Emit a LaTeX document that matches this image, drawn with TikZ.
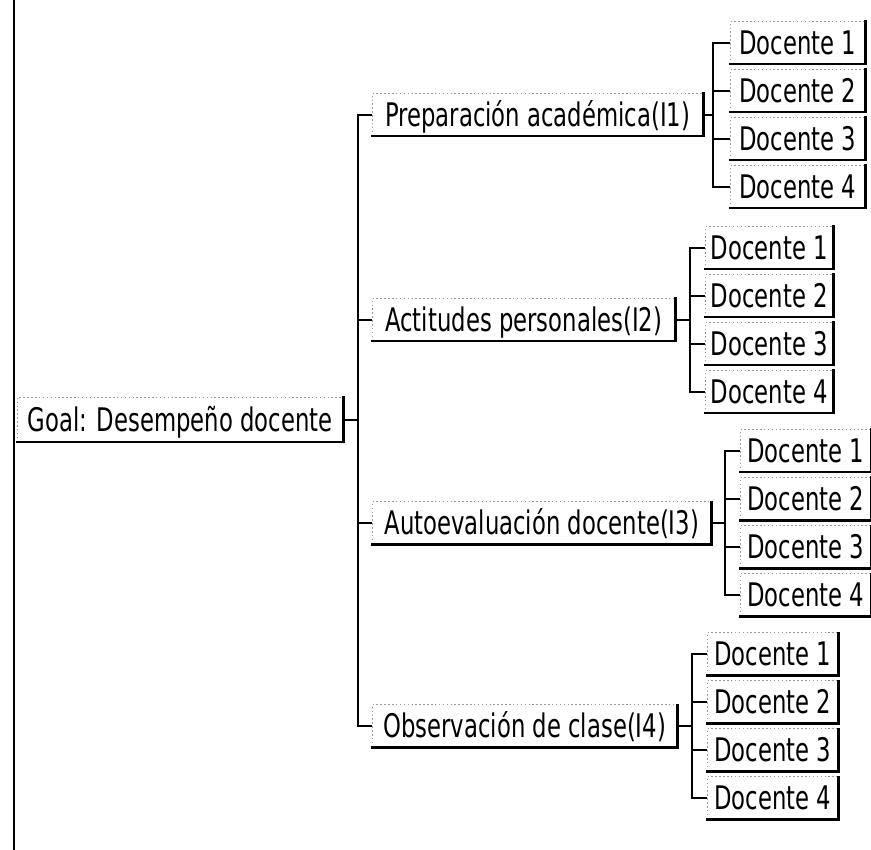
\documentclass[tikz,border=0pt]{standalone}
\usepackage{fontspec}
\newfontfamily\boxfont[FakeStretch=0.70]{DejaVu Sans}
\begin{document}
\begin{tikzpicture}[x=1pt,y=-1pt,
  lbl/.style={inner sep=0pt, minimum height=42pt, text height=23.5pt, text depth=0pt,
    anchor=west, font=\boxfont\fontsize{32.5}{38}\selectfont},
  wire/.style={line width=1.8pt, black},
  rim/.style={line width=2.6pt, black, line cap=rect},
  faintrim/.style={line width=0.8pt, black!40, dash pattern=on 1.5pt off 2.4pt},
  margin/.style={line width=2pt, black}]
  \useasboundingbox (0,0) rectangle (871,850);
  \fill[white] (0,0) rectangle (871,850);

  % rule along the left side of the page
  \coordinate (mtop) at (14,0);
  \coordinate (mbot) at (14,850);
  \draw[margin] (mtop) -- (mbot);

  % goal and criteria
  \node[lbl, minimum width=326pt, minimum height=44pt] (goal) at (17,420) {Goal: Desempeño docente};
  \node[lbl, minimum width=331pt] (c1) at (372,115) {Preparación académica(I1)};
  \node[lbl, minimum width=303pt] (c2) at (372,320) {Actitudes personales(I2)};
  \node[lbl, minimum width=339pt] (c3) at (372,523) {Autoevaluación docente(I3)};
  \node[lbl, minimum width=305pt] (c4) at (372,726) {Observación de clase(I4)};

  \coordinate (mt) at (358,420);
  \draw[wire] (goal.east) -- (mt);
  \foreach \g in {1,...,4} {
    \draw[wire] (mt) |- (c\g.west);
  }

  % alternatives under each criterion
  \foreach \g/\cy/\tx/\lx/\lw in {1/115/713/730/135, 2/320/690/705/128,
                                  3/523/725/740/131, 4/726/692/707/131} {
    \coordinate (t\g) at (\tx,\cy);
    \draw[wire] (c\g.east) -- (t\g);
    \foreach \k/\dy in {1/-72,2/-24,3/24,4/72} {
      \node[lbl, minimum width=\lw pt] (l\g\k) at (\lx,\cy+\dy) {Docente \k};
      \draw[wire] (t\g) |- (l\g\k.west);
    }
  }

  % box outlines: faint top/left, heavy bottom/right
  \foreach \n in {goal,c1,c2,c3,c4} {
    \draw[faintrim] (\n.south west) |- (\n.north east);
    \draw[rim] (\n.south west) -| (\n.north east);
  }
  \foreach \g in {1,...,4} {
    \foreach \k in {1,...,4} {
      \draw[faintrim] (l\g\k.south west) |- (l\g\k.north east);
      \draw[rim] (l\g\k.south west) -| (l\g\k.north east);
    }
  }
\end{tikzpicture}
\end{document}
